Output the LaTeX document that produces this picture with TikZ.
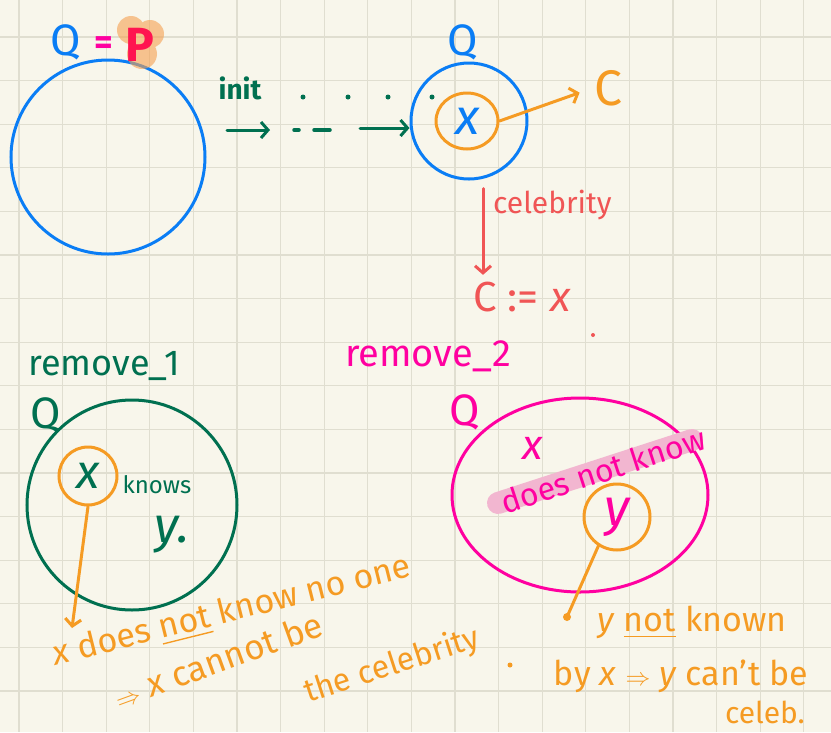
\documentclass[tikz,border=0pt]{standalone}
\usepackage{fontspec}
\setmainfont{Fira Sans}
\usepackage{amsmath,amssymb}
\usepackage{tikz}
\usetikzlibrary{positioning, arrows.meta, shapes.geometric, calc}

\definecolor{paper}{RGB}{248,246,235}
\definecolor{gridc}{RGB}{224,222,208}
\definecolor{qblue}{RGB}{10,125,245}
\definecolor{qgreen}{RGB}{0,112,80}
\definecolor{qorange}{RGB}{245,155,35}
\definecolor{qred}{RGB}{240,85,85}
\definecolor{qpink}{RGB}{255,0,160}
\definecolor{pred}{RGB}{255,20,80}
\definecolor{hlpink}{RGB}{242,182,208}
\definecolor{hlorange}{RGB}{245,160,80}

\newcommand{\fs}[1]{\fontsize{#1}{#1}\selectfont}

\begin{document}
\begin{tikzpicture}[
  x=1pt, y=-1pt,
  hand/.style={inner sep=1pt, font=\fs{34}},
  small/.style={inner sep=1pt, font=\fs{24}},
  ring/.style={circle, draw, line width=3pt, inner sep=0pt},
  oval/.style={ellipse, draw, line width=3pt, inner sep=0pt},
  arrow/.style={-{Straight Barb[length=7pt, width=16pt]}, line width=3pt,
    line cap=round},
  gridline/.style={gridc, line width=1.2pt},
]
  % paper
  \fill[paper] (0,0) rectangle (831,732);
  \useasboundingbox (0,0) rectangle (831,732);
  \foreach \gx in {0,...,18} \draw[gridline] ({19+43.6*\gx},0) -- ++(0,732);
  \foreach \gy in {0,...,15} \draw[gridline] (0,{37+43.6*\gy}) -- ++(831,0);

  % first set
  \node[ring, draw=qblue, minimum size=194pt] (setA) at (108,157) {};
  \node[hand, text=qblue, font=\fs{44}] (qA) at (66,42) {Q};
  \node[hand, text=qpink, font=\fs{36}\bfseries] (eqA) at (104,46) {=};
  \fill[hlorange, opacity=0.6] (131,30) circle (14) (150,34) circle (14)
    (142,54) circle (15);
  \node[hand, text=pred, font=\fs{48}\bfseries] (pA) at (140,45) {P};

  \node[small, text=qgreen, font=\fs{28}\bfseries] (init) at (240,88) {init};
  \foreach \dx in {303,348,388,432} \fill[qgreen] (\dx,97) circle (2.5);
  \coordinate (a1) at (227,130);
  \coordinate (a2) at (270,130);
  \draw[arrow, qgreen] (a1) -- (a2);
  \draw[qgreen, line width=3.5pt, line cap=round] (294,130) -- (299,130)
    (314,130) -- (330,130);
  \coordinate (a3) at (360,128);

  % second set
  \node[ring, draw=qblue, minimum size=116pt] (setB) at (469,121) {};
  \draw[arrow, qgreen] (a3) -- (a3 -| setB.west);
  \node[hand, text=qblue, font=\fs{44}] (qB) at (463,42) {Q};
  \node[oval, draw=qorange, minimum width=62pt, minimum height=56pt,
    text=qblue, font=\fs{50}\itshape] (xB) at (467,121) {x};
  \node[hand, text=qorange, font=\fs{50}] (cB) at (608,88) {C};
  \draw[arrow, qorange, shorten >=14pt] (xB.east) -- (cB.west);
  \node[hand, text=qred, font=\fs{42}] (assign) at (522,297) {C := \textit{x}};
  \draw[arrow, qred] ([xshift=14pt, yshift=-8pt]setB.south)
    -- ([xshift=14pt, yshift=6pt]setB.south |- assign.north);
  \node[hand, text=qred, anchor=west, font=\fs{30}] (celeb) at (492,205) {celebrity};
  \fill[qred] (593,335) circle (2);

  % remove 1
  \node[hand, text=qgreen, font=\fs{36}] (rmA) at (104,366) {remove\_1};
  \node[hand, text=qgreen, font=\fs{44}] (qC) at (46,415) {Q};
  \node[ring, draw=qgreen, minimum size=210pt] (setC) at (132,505) {};
  \node[ring, draw=qorange, minimum size=58pt, text=qgreen,
    font=\fs{48}\itshape] (xC) at (88,476) {x};
  \node[small, text=qgreen] (knows) at (157,485) {knows};
  \node[hand, text=qgreen, font=\fs{50}\itshape] (yC) at (172,535) {y.};
  \coordinate (endC) at (72,628);
  \draw[arrow, qorange] (xC.south) -- (endC);

  % remove 2
  \node[hand, text=qpink, font=\fs{38}] (rmB) at (428,356) {remove\_2};
  \node[hand, text=qpink, font=\fs{44}] (qD) at (465,412) {Q};
  \node[oval, draw=qpink, minimum width=256pt, minimum height=194pt] (setD) at (580,495) {};
  \node[hand, text=qpink, font=\fs{42}\itshape] (xD) at (533,448) {x};
  \draw[hlpink, line width=22pt, line cap=round] (498,503) -- (692,440);
  \node[hand, text=qpink, rotate=18, font=\fs{32}] (dnk) at (603,470) {does not know};
  \node[ring, draw=qorange, minimum size=66pt, text=qpink,
    font=\fs{52}\itshape] (yD) at (617,517) {y};
  \coordinate (endD) at (567,617);
  \draw[qorange, line width=3pt, line cap=round] (yD.south west) ++(6,4) -- (endD);
  \fill[qorange] (endD) circle (4);

  % notes
  \node[hand, text=qorange, rotate=14] (noteA) at (232,612)
    {\textit{x} does \underline{not} know no one};
  \node[hand, text=qorange, rotate=20, font=\fs{35}] (noteB) at (218,660)
    {$\Rightarrow$ \textit{x} cannot be};
  \node[hand, text=qorange, rotate=18, font=\fs{32}] (noteC) at (392,666) {the celebrity};
  \fill[qorange] (510,665) circle (2.5);
  \node[hand, text=qorange] (noteD) at (692,622) {\textit{y} \underline{not} known};
  \node[hand, text=qorange, font=\fs{34}] (noteE) at (681,676)
    {by \textit{x} $\Rightarrow$ \textit{y} can't be};
  \node[hand, text=qorange, font=\fs{30}] (noteF) at (765,712) {celeb.};
\end{tikzpicture}
\end{document}
